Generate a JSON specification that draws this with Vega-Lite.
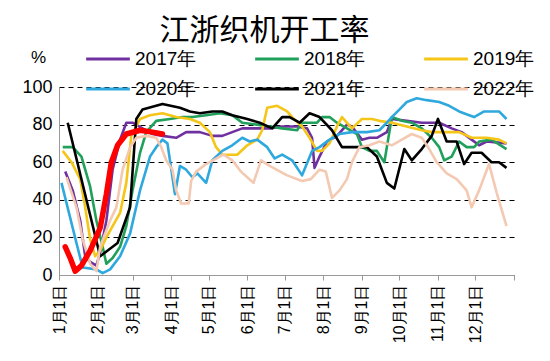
{
  "$schema": "https://vega.github.io/schema/vega-lite/v6.json",
  "width": 455,
  "height": 188,
  "autosize": {"type": "none"},
  "padding": {"left": 59, "top": 87, "right": 36, "bottom": 86},
  "background": "white",
  "title": {"text": "江浙织机开工率", "font": "Noto Sans CJK SC", "fontSize": 30, "fontWeight": "normal", "color": "#000", "anchor": "middle", "frame": "group", "offset": 2, "dx": -22},
  "config": {
    "view": {"stroke": null},
    "font": "Liberation Sans"
  },
  "data": {"values": [
    {"series":"2017年","date":"2022-01-06","value":55},{"series":"2017年","date":"2022-01-12","value":45},{"series":"2017年","date":"2022-01-18","value":29},{"series":"2017年","date":"2022-01-22","value":10},{"series":"2017年","date":"2022-01-26","value":7},{"series":"2017年","date":"2022-01-31","value":5},{"series":"2017年","date":"2022-02-03","value":12},{"series":"2017年","date":"2022-02-08","value":29},{"series":"2017年","date":"2022-02-13","value":56},{"series":"2017年","date":"2022-02-19","value":72},{"series":"2017年","date":"2022-02-24","value":81},{"series":"2017年","date":"2022-03-01","value":81},{"series":"2017年","date":"2022-03-09","value":78},{"series":"2017年","date":"2022-03-17","value":75},{"series":"2017年","date":"2022-03-25","value":74},{"series":"2017年","date":"2022-04-05","value":73},{"series":"2017年","date":"2022-04-13","value":76},{"series":"2017年","date":"2022-04-24","value":76},{"series":"2017年","date":"2022-05-04","value":74},{"series":"2017年","date":"2022-05-12","value":74},{"series":"2017年","date":"2022-05-20","value":76},{"series":"2017年","date":"2022-05-28","value":78},{"series":"2017年","date":"2022-06-09","value":78},{"series":"2017年","date":"2022-06-19","value":78},{"series":"2017年","date":"2022-06-29","value":79},{"series":"2017年","date":"2022-07-11","value":79},{"series":"2017年","date":"2022-07-19","value":78},{"series":"2017年","date":"2022-07-23","value":73},{"series":"2017年","date":"2022-07-25","value":57},{"series":"2017年","date":"2022-07-29","value":63},{"series":"2017年","date":"2022-08-04","value":71},{"series":"2017年","date":"2022-08-12","value":74},{"series":"2017年","date":"2022-08-20","value":80},{"series":"2017年","date":"2022-08-24","value":79},{"series":"2017年","date":"2022-09-01","value":72},{"series":"2017年","date":"2022-09-07","value":73},{"series":"2017年","date":"2022-09-13","value":73},{"series":"2017年","date":"2022-09-21","value":76},{"series":"2017年","date":"2022-09-25","value":83},{"series":"2017年","date":"2022-10-07","value":82},{"series":"2017年","date":"2022-10-19","value":81},{"series":"2017年","date":"2022-11-02","value":81},{"series":"2017年","date":"2022-11-12","value":78},{"series":"2017年","date":"2022-11-20","value":76},{"series":"2017年","date":"2022-11-28","value":72},{"series":"2017年","date":"2022-12-04","value":69},{"series":"2017年","date":"2022-12-10","value":71},{"series":"2017年","date":"2022-12-26","value":70},
    {"series":"2018年","date":"2022-01-04","value":68},{"series":"2018年","date":"2022-01-12","value":68},{"series":"2018年","date":"2022-01-19","value":63},{"series":"2018年","date":"2022-01-26","value":47},{"series":"2018年","date":"2022-01-31","value":29},{"series":"2018年","date":"2022-02-05","value":15},{"series":"2018年","date":"2022-02-08","value":6},{"series":"2018年","date":"2022-02-13","value":9},{"series":"2018年","date":"2022-02-19","value":15},{"series":"2018年","date":"2022-02-24","value":26},{"series":"2018年","date":"2022-03-01","value":45},{"series":"2018年","date":"2022-03-07","value":65},{"series":"2018年","date":"2022-03-12","value":76},{"series":"2018年","date":"2022-03-20","value":82},{"series":"2018年","date":"2022-03-31","value":83},{"series":"2018年","date":"2022-04-10","value":84},{"series":"2018年","date":"2022-04-18","value":84},{"series":"2018年","date":"2022-04-29","value":85},{"series":"2018年","date":"2022-05-10","value":86},{"series":"2018年","date":"2022-05-20","value":85},{"series":"2018年","date":"2022-05-28","value":81},{"series":"2018年","date":"2022-06-09","value":80},{"series":"2018年","date":"2022-06-19","value":79},{"series":"2018年","date":"2022-06-29","value":78},{"series":"2018年","date":"2022-07-11","value":77},{"series":"2018年","date":"2022-07-15","value":81},{"series":"2018年","date":"2022-07-27","value":81},{"series":"2018年","date":"2022-07-31","value":84},{"series":"2018年","date":"2022-08-06","value":84},{"series":"2018年","date":"2022-08-12","value":81},{"series":"2018年","date":"2022-08-20","value":78},{"series":"2018年","date":"2022-08-28","value":75},{"series":"2018年","date":"2022-09-01","value":68},{"series":"2018年","date":"2022-09-07","value":66},{"series":"2018年","date":"2022-09-13","value":66},{"series":"2018年","date":"2022-09-19","value":60},{"series":"2018年","date":"2022-09-25","value":84},{"series":"2018年","date":"2022-10-03","value":82},{"series":"2018年","date":"2022-10-11","value":81},{"series":"2018年","date":"2022-10-19","value":78},{"series":"2018年","date":"2022-10-27","value":73},{"series":"2018年","date":"2022-11-02","value":68},{"series":"2018年","date":"2022-11-06","value":61},{"series":"2018年","date":"2022-11-12","value":63},{"series":"2018年","date":"2022-11-18","value":71},{"series":"2018年","date":"2022-11-24","value":68},{"series":"2018年","date":"2022-11-30","value":68},{"series":"2018年","date":"2022-12-04","value":71},{"series":"2018年","date":"2022-12-14","value":72},{"series":"2018年","date":"2022-12-26","value":67},
    {"series":"2019年","date":"2022-01-04","value":66},{"series":"2019年","date":"2022-01-11","value":60},{"series":"2019年","date":"2022-01-18","value":51},{"series":"2019年","date":"2022-01-22","value":36},{"series":"2019年","date":"2022-01-26","value":19},{"series":"2019年","date":"2022-01-30","value":10},{"series":"2019年","date":"2022-02-03","value":13},{"series":"2019年","date":"2022-02-08","value":20},{"series":"2019年","date":"2022-02-13","value":26},{"series":"2019年","date":"2022-02-19","value":33},{"series":"2019年","date":"2022-02-24","value":49},{"series":"2019年","date":"2022-02-28","value":74},{"series":"2019年","date":"2022-03-07","value":83},{"series":"2019年","date":"2022-03-15","value":85},{"series":"2019年","date":"2022-03-25","value":86},{"series":"2019年","date":"2022-04-05","value":84},{"series":"2019年","date":"2022-04-16","value":83},{"series":"2019年","date":"2022-04-24","value":81},{"series":"2019年","date":"2022-05-02","value":76},{"series":"2019年","date":"2022-05-07","value":68},{"series":"2019年","date":"2022-05-12","value":64},{"series":"2019年","date":"2022-05-24","value":64},{"series":"2019年","date":"2022-06-01","value":69},{"series":"2019年","date":"2022-06-09","value":72},{"series":"2019年","date":"2022-06-13","value":77},{"series":"2019年","date":"2022-06-17","value":89},{"series":"2019年","date":"2022-06-25","value":90},{"series":"2019年","date":"2022-07-03","value":87},{"series":"2019年","date":"2022-07-07","value":84},{"series":"2019年","date":"2022-07-15","value":79},{"series":"2019年","date":"2022-07-21","value":73},{"series":"2019年","date":"2022-07-27","value":66},{"series":"2019年","date":"2022-07-31","value":66},{"series":"2019年","date":"2022-08-06","value":70},{"series":"2019年","date":"2022-08-12","value":79},{"series":"2019年","date":"2022-08-16","value":84},{"series":"2019年","date":"2022-08-24","value":78},{"series":"2019年","date":"2022-09-01","value":83},{"series":"2019年","date":"2022-09-09","value":83},{"series":"2019年","date":"2022-09-15","value":82},{"series":"2019年","date":"2022-09-25","value":81},{"series":"2019年","date":"2022-10-07","value":79},{"series":"2019年","date":"2022-10-19","value":77},{"series":"2019年","date":"2022-10-27","value":76},{"series":"2019年","date":"2022-11-08","value":76},{"series":"2019年","date":"2022-11-18","value":76},{"series":"2019年","date":"2022-11-28","value":73},{"series":"2019年","date":"2022-12-10","value":73},{"series":"2019年","date":"2022-12-20","value":72},{"series":"2019年","date":"2022-12-26","value":70},
    {"series":"2020年","date":"2022-01-03","value":49},{"series":"2020年","date":"2022-01-15","value":17},{"series":"2020年","date":"2022-01-20","value":4},{"series":"2020年","date":"2022-01-31","value":3},{"series":"2020年","date":"2022-02-05","value":1},{"series":"2020年","date":"2022-02-11","value":3},{"series":"2020年","date":"2022-02-19","value":10},{"series":"2020年","date":"2022-02-27","value":22},{"series":"2020年","date":"2022-03-07","value":45},{"series":"2020年","date":"2022-03-15","value":63},{"series":"2020年","date":"2022-03-20","value":68},{"series":"2020年","date":"2022-03-25","value":72},{"series":"2020年","date":"2022-03-29","value":70},{"series":"2020年","date":"2022-04-04","value":43},{"series":"2020年","date":"2022-04-08","value":58},{"series":"2020年","date":"2022-04-13","value":56},{"series":"2020年","date":"2022-04-18","value":52},{"series":"2020年","date":"2022-04-22","value":54},{"series":"2020年","date":"2022-04-29","value":49},{"series":"2020年","date":"2022-05-04","value":61},{"series":"2020年","date":"2022-05-12","value":66},{"series":"2020年","date":"2022-05-20","value":69},{"series":"2020年","date":"2022-05-28","value":73},{"series":"2020年","date":"2022-06-03","value":71},{"series":"2020年","date":"2022-06-09","value":72},{"series":"2020年","date":"2022-06-17","value":68},{"series":"2020年","date":"2022-06-23","value":62},{"series":"2020年","date":"2022-06-29","value":64},{"series":"2020年","date":"2022-07-07","value":61},{"series":"2020年","date":"2022-07-15","value":53},{"series":"2020年","date":"2022-07-23","value":66},{"series":"2020年","date":"2022-07-29","value":68},{"series":"2020年","date":"2022-08-06","value":72},{"series":"2020年","date":"2022-08-14","value":75},{"series":"2020年","date":"2022-08-24","value":76},{"series":"2020年","date":"2022-09-05","value":76},{"series":"2020年","date":"2022-09-15","value":77},{"series":"2020年","date":"2022-09-21","value":81},{"series":"2020年","date":"2022-09-25","value":84},{"series":"2020年","date":"2022-10-01","value":88},{"series":"2020年","date":"2022-10-07","value":92},{"series":"2020年","date":"2022-10-15","value":94},{"series":"2020年","date":"2022-10-23","value":93},{"series":"2020年","date":"2022-11-02","value":92},{"series":"2020年","date":"2022-11-10","value":90},{"series":"2020年","date":"2022-11-18","value":87},{"series":"2020年","date":"2022-11-26","value":85},{"series":"2020年","date":"2022-11-30","value":84},{"series":"2020年","date":"2022-12-08","value":87},{"series":"2020年","date":"2022-12-20","value":87},{"series":"2020年","date":"2022-12-26","value":83},
    {"series":"2021年","date":"2022-01-08","value":81},{"series":"2021年","date":"2022-02-03","value":10},{"series":"2021年","date":"2022-02-17","value":17},{"series":"2021年","date":"2022-02-27","value":36},{"series":"2021年","date":"2022-03-04","value":83},{"series":"2021年","date":"2022-03-09","value":88},{"series":"2021年","date":"2022-03-25","value":91},{"series":"2021年","date":"2022-04-08","value":89},{"series":"2021年","date":"2022-04-16","value":87},{"series":"2021年","date":"2022-04-24","value":86},{"series":"2021年","date":"2022-05-04","value":87},{"series":"2021年","date":"2022-05-12","value":87},{"series":"2021年","date":"2022-05-20","value":85},{"series":"2021年","date":"2022-06-01","value":83},{"series":"2021年","date":"2022-06-11","value":81},{"series":"2021年","date":"2022-06-21","value":78},{"series":"2021年","date":"2022-06-29","value":84},{"series":"2021年","date":"2022-07-05","value":84},{"series":"2021年","date":"2022-07-13","value":81},{"series":"2021年","date":"2022-07-21","value":86},{"series":"2021年","date":"2022-07-29","value":84},{"series":"2021年","date":"2022-08-08","value":77},{"series":"2021年","date":"2022-08-16","value":68},{"series":"2021年","date":"2022-08-24","value":68},{"series":"2021年","date":"2022-09-05","value":68},{"series":"2021年","date":"2022-09-13","value":63},{"series":"2021年","date":"2022-09-21","value":49},{"series":"2021年","date":"2022-09-27","value":46},{"series":"2021年","date":"2022-10-05","value":67},{"series":"2021年","date":"2022-10-11","value":61},{"series":"2021年","date":"2022-10-19","value":67},{"series":"2021年","date":"2022-10-27","value":74},{"series":"2021年","date":"2022-11-01","value":83},{"series":"2021年","date":"2022-11-08","value":71},{"series":"2021年","date":"2022-11-16","value":71},{"series":"2021年","date":"2022-11-22","value":59},{"series":"2021年","date":"2022-11-28","value":65},{"series":"2021年","date":"2022-12-06","value":65},{"series":"2021年","date":"2022-12-14","value":60},{"series":"2021年","date":"2022-12-20","value":60},{"series":"2021年","date":"2022-12-26","value":57},
    {"series":"2022年","date":"2022-01-07","value":52},{"series":"2022年","date":"2022-01-15","value":36},{"series":"2022年","date":"2022-01-20","value":19},{"series":"2022年","date":"2022-01-26","value":6},{"series":"2022年","date":"2022-01-31","value":2},{"series":"2022年","date":"2022-02-03","value":15},{"series":"2022年","date":"2022-02-11","value":29},{"series":"2022年","date":"2022-02-16","value":36},{"series":"2022年","date":"2022-02-21","value":56},{"series":"2022年","date":"2022-02-27","value":68},{"series":"2022年","date":"2022-03-04","value":73},{"series":"2022年","date":"2022-03-12","value":74},{"series":"2022年","date":"2022-03-20","value":73},{"series":"2022年","date":"2022-03-24","value":68},{"series":"2022年","date":"2022-03-28","value":61},{"series":"2022年","date":"2022-04-02","value":56},{"series":"2022年","date":"2022-04-05","value":45},{"series":"2022年","date":"2022-04-09","value":38},{"series":"2022年","date":"2022-04-15","value":38},{"series":"2022年","date":"2022-04-17","value":50},{"series":"2022年","date":"2022-04-21","value":55},{"series":"2022年","date":"2022-04-29","value":59},{"series":"2022年","date":"2022-05-10","value":63},{"series":"2022年","date":"2022-05-13","value":64},{"series":"2022年","date":"2022-05-20","value":61},{"series":"2022年","date":"2022-05-27","value":55},{"series":"2022年","date":"2022-06-01","value":52},{"series":"2022年","date":"2022-06-06","value":49},{"series":"2022年","date":"2022-06-12","value":61},{"series":"2022年","date":"2022-06-19","value":58},{"series":"2022年","date":"2022-07-03","value":53},{"series":"2022年","date":"2022-07-15","value":50},{"series":"2022年","date":"2022-07-22","value":51},{"series":"2022年","date":"2022-07-29","value":56},{"series":"2022年","date":"2022-08-03","value":55},{"series":"2022年","date":"2022-08-08","value":41},{"series":"2022年","date":"2022-08-14","value":45},{"series":"2022年","date":"2022-08-20","value":51},{"series":"2022年","date":"2022-08-24","value":60},{"series":"2022年","date":"2022-08-30","value":68},{"series":"2022年","date":"2022-09-07","value":69},{"series":"2022年","date":"2022-09-15","value":71},{"series":"2022年","date":"2022-09-25","value":69},{"series":"2022年","date":"2022-10-03","value":72},{"series":"2022年","date":"2022-10-11","value":75},{"series":"2022年","date":"2022-10-19","value":73},{"series":"2022年","date":"2022-10-25","value":67},{"series":"2022年","date":"2022-10-31","value":60},{"series":"2022年","date":"2022-11-08","value":54},{"series":"2022年","date":"2022-11-16","value":51},{"series":"2022年","date":"2022-11-24","value":45},{"series":"2022年","date":"2022-11-28","value":36},{"series":"2022年","date":"2022-12-04","value":45},{"series":"2022年","date":"2022-12-12","value":59},{"series":"2022年","date":"2022-12-18","value":44},{"series":"2022年","date":"2022-12-26","value":26},
    {"series":"2023年","date":"2022-01-06","value":15},{"series":"2023年","date":"2022-01-10","value":9},{"series":"2023年","date":"2022-01-14","value":2},{"series":"2023年","date":"2022-01-19","value":5},{"series":"2023年","date":"2022-01-26","value":13},{"series":"2023年","date":"2022-02-03","value":25},{"series":"2023年","date":"2022-02-08","value":43},{"series":"2023年","date":"2022-02-12","value":60},{"series":"2023年","date":"2022-02-17","value":69},{"series":"2023年","date":"2022-02-24","value":75},{"series":"2023年","date":"2022-03-07","value":77},{"series":"2023年","date":"2022-03-17","value":76},{"series":"2023年","date":"2022-03-25","value":75}
  ]},
  "encoding": {
    "x": {"field": "date", "type": "temporal",
      "scale": {"type": "utc", "domain": [{"year": 2022, "month": 1, "date": 1, "utc": true}, {"year": 2023, "month": 1, "date": 1, "utc": true}]},
      "axis": {"title": null, "grid": false,
        "values": [{"year":2022,"month":1,"date":1,"utc":true},{"year":2022,"month":2,"date":1,"utc":true},{"year":2022,"month":3,"date":1,"utc":true},{"year":2022,"month":4,"date":1,"utc":true},{"year":2022,"month":5,"date":1,"utc":true},{"year":2022,"month":6,"date":1,"utc":true},{"year":2022,"month":7,"date":1,"utc":true},{"year":2022,"month":8,"date":1,"utc":true},{"year":2022,"month":9,"date":1,"utc":true},{"year":2022,"month":10,"date":1,"utc":true},{"year":2022,"month":11,"date":1,"utc":true},{"year":2022,"month":12,"date":1,"utc":true},{"year":2023,"month":1,"date":1,"utc":true}],
        "labelExpr": "utcyear(datum.value) > 2022 ? '' : utcFormat(datum.value, '%-m月%-d日')",
        "labelAngle": 270, "labelFontSize": 16, "labelFont": "Liberation Sans", "labelColor": "#000", "labelPadding": 4,
        "tickColor": "#999", "tickSize": 5, "domainColor": "#999", "labelOverlap": false}},
    "y": {"field": "value", "type": "quantitative",
      "scale": {"domain": [0, 100], "nice": false},
      "axis": {"title": "%", "titleAngle": 0, "titleX": -21, "titleY": -30, "titleAlign": "center", "titleBaseline": "middle", "titleFontSize": 17, "titleFontWeight": "normal", "titleFont": "Liberation Sans", "titleColor": "#000",
        "values": [0, 20, 40, 60, 80, 100], "ticks": false, "labelFontSize": 18, "labelFont": "Liberation Sans", "labelColor": "#000", "labelPadding": 7,
        "domainColor": "#999", "gridColor": "#000", "gridDash": [5, 4], "gridWidth": 1}}
  },
  "layer": [
    {
      "transform": [{"filter": "datum.series != '2023年'"}],
      "mark": {"type": "line", "strokeWidth": 2.6, "strokeJoin": "round"},
      "encoding": {
        "color": {"field": "series", "type": "nominal",
          "scale": {"domain": ["2017年","2018年","2019年","2020年","2021年","2022年"], "range": ["#7030A0","#20A05A","#F5C518","#2FA8DE","#000000","#F4C9B2"]},
          "legend": {"orient": "none", "legendX": 38, "legendY": -39, "columns": 3, "direction": "horizontal", "title": null,
            "symbolType": "M-2.3,0H2.3", "symbolSize": 361, "symbolStrokeWidth": 3, "labelFontSize": 19, "labelFont": "Liberation Sans", "labelColor": "#000", "labelOffset": 16, "columnPadding": 52, "rowPadding": 9}}
      }
    },
    {
      "transform": [{"filter": "datum.series == '2023年'"}],
      "mark": {"type": "line", "strokeWidth": 5.5, "color": "#FF0000", "strokeJoin": "round", "strokeCap": "round"}
    }
  ]
}
